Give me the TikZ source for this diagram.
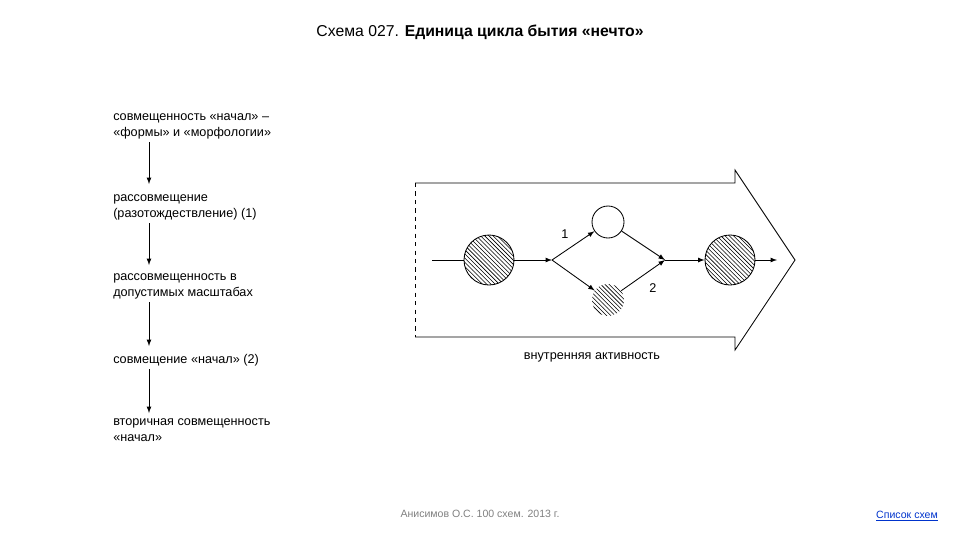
\documentclass[tikz,border=0pt]{standalone}
\usepackage{fontspec}
\setmainfont{Liberation Sans}
\usepackage{xcolor}
\usepackage{tikz}
\usetikzlibrary{arrows,calc,patterns}

\definecolor{linkblue}{RGB}{0,51,204}

\begin{document}
\begin{tikzpicture}[
    x=0.025cm,
    y=-0.025cm,
    every node/.style={font=\fontsize{9}{11.5}\selectfont},
    stage/.style={anchor=north west, inner sep=0pt, align=left},
    arrow/.style={-latex, semithick},
    bigdot/.style={circle, draw, semithick, minimum size=1.25cm, inner sep=0pt, pattern=north west lines},
    smalldot/.style={circle, minimum size=0.8cm, inner sep=0pt}
]
\useasboundingbox (0,0) rectangle (960,540);

% Title
\node (title) at (480,32) {\fontsize{11.2}{13}\selectfont Схема 027. \textbf{Единица цикла бытия «нечто»}};

% Left chain
\node[stage] (s1) at (113,113) {совмещенность «начал» --\\«формы» и «морфологии»};
\node[stage] (s2) at (113,194) {рассовмещение\\(разотождествление) (1)};
\node[stage] (s3) at (113,273) {рассовмещенность в\\допустимых масштабах};
\node[stage] (s4) at (113,354) {совмещение «начал» (2)};
\node[stage] (s5) at (113,418) {вторичная совмещенность\\«начал»};

\draw[arrow] ($(s1.south west)+(36,3)$) -- ($(s2.north west)+(36,-10)$);
\draw[arrow] ($(s2.south west)+(36,3)$) -- ($(s3.north west)+(36,-8)$);
\draw[arrow] ($(s3.south west)+(36,3)$) -- ($(s4.north west)+(36,-8)$);
\draw[arrow] ($(s4.south west)+(36,3)$) -- ($(s5.north west)+(36,-5)$);

% Big arrow
\draw[semithick] (415,183) -- (735,183) -- (735,170) -- (795,260) -- (735,350) -- (735,337) -- (415,337);
\draw[semithick, dashed] (415,183) -- (415,337);
\node (activity) at (592,357) {внутренняя активность};

% Inner process
\coordinate (start) at (432,260);
\coordinate (split) at (552,260);
\coordinate (merge) at (665,260);
\coordinate (finish) at (777,260);

\node[bigdot] (first) at (489,260) {};
\node[smalldot, draw, semithick] (upper) at (608,222) {};
\node[smalldot, pattern=north west lines] (lower) at (608,300) {};
\node[bigdot] (second) at (730,260) {};

\draw[semithick] (start) -- (first);
\draw[arrow] (first) -- (split);
\draw[arrow] (split) -- (upper);
\draw[arrow] (split) -- (lower);
\draw[arrow] (upper) -- (merge);
\draw[arrow] (lower) -- (merge);
\draw[arrow] (merge) -- (second);
\draw[arrow] (second) -- (finish);

\node (one) at (565,234) {1};
\node (two) at (653,288) {2};

% Footer
\node[text=gray] (credit) at (480,514) {\fontsize{7.5}{9}\selectfont Анисимов О.С. 100 схем. 2013 г.};
\node[text=linkblue] (list) at (907,516) {\fontsize{7.5}{9}\selectfont\underline{Список схем}};

\end{tikzpicture}
\end{document}
